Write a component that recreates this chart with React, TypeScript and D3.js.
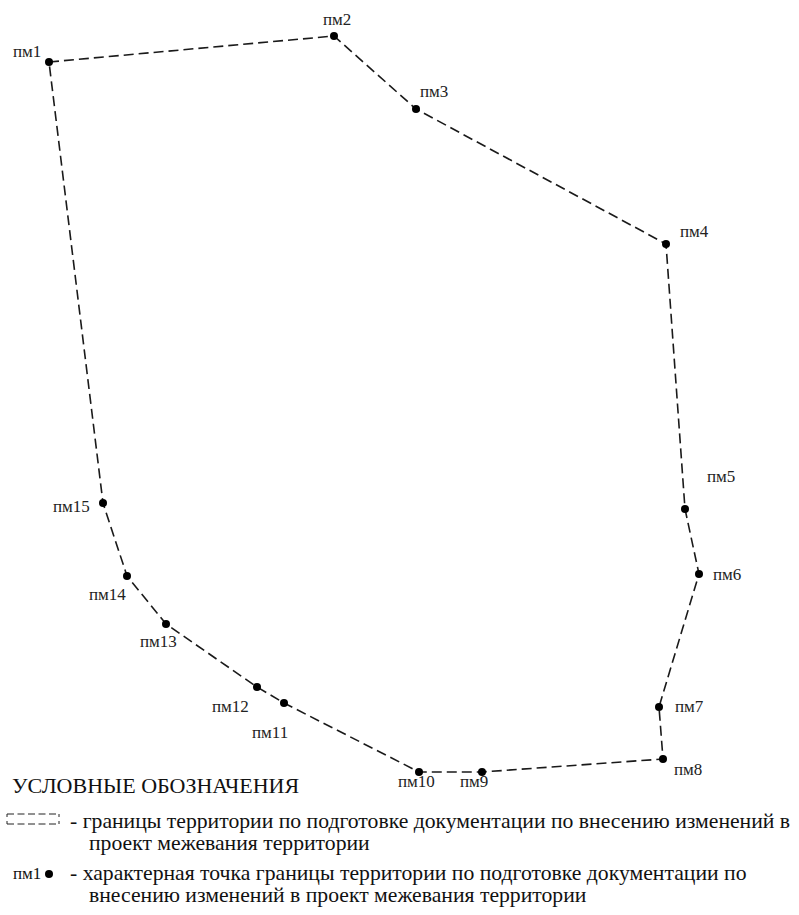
import React, { useRef, useEffect } from "react";
import * as d3 from "d3";

// boundary points (plan units, northing grows upward)
const pointNames = [
  "пм1", "пм2", "пм3", "пм4", "пм5", "пм6", "пм7", "пм8",
  "пм9", "пм10", "пм11", "пм12", "пм13", "пм14", "пм15",
];
const eastings = [49, 334, 416, 666, 685, 699, 659, 663, 482, 419, 284, 257, 166, 127, 103];
const northings = [853, 879, 806, 671, 406, 341, 208, 156, 143, 143, 212, 228, 291, 339, 412];

// label placement relative to the point (px)
const labelDx = [-36, -11, 4, 14, 22, 14, 16, 11, -22, -21, -32, -45, -26, -38, -50];
const labelDy = [-5, -11, -12, -7, -27, 6, 5, 16, 15, 15, 35, 25, 23, 24, 9];

const legendTitle = "УСЛОВНЫЕ ОБОЗНАЧЕНИЯ";
const legendLines = [
  ["- границы территории по подготовке документации по внесению изменений в", "проект межевания территории"],
  ["- характерная точка границы территории по подготовке документации по", "внесению изменений в проект межевания территории"],
];

const W = 799;
const H = 915;
const FONT = "'Liberation Serif', 'Times New Roman', serif";

export default function App() {
  const svgRef = useRef<SVGSVGElement>(null);

  useEffect(() => {
    if (!svgRef.current) return;
    const svg = d3.select(svgRef.current);
    svg.selectAll("*").remove();

    const x = d3.scaleLinear().domain([0, W]).range([0, W]);
    const y = d3.scaleLinear().domain([0, H]).range([H, 0]);

    const pts = pointNames.map((name, i) => ({
      name,
      px: x(eastings[i]),
      py: y(northings[i]),
      dx: labelDx[i],
      dy: labelDy[i],
    }));

    const line = d3
      .line<any>()
      .x((d) => d.px)
      .y((d) => d.py)
      .curve(d3.curveLinearClosed);

    svg
      .append("path")
      .attr("d", line(pts))
      .attr("fill", "none")
      .attr("stroke", "#1a1a1a")
      .attr("stroke-width", 1.6)
      .attr("stroke-dasharray", "10,5");

    svg
      .selectAll(".pt")
      .data(pts)
      .enter()
      .append("circle")
      .attr("cx", (d) => d.px)
      .attr("cy", (d) => d.py)
      .attr("r", 4)
      .attr("fill", "#000");

    svg
      .selectAll(".lbl")
      .data(pts)
      .enter()
      .append("text")
      .attr("x", (d) => d.px + d.dx)
      .attr("y", (d) => d.py + d.dy)
      .attr("font-family", FONT)
      .attr("font-size", 17)
      .attr("fill", "#222")
      .text((d) => d.name);

    // legend
    const lg = svg.append("g").attr("font-family", FONT).attr("fill", "#111");

    lg.append("text")
      .attr("x", 12)
      .attr("y", 793)
      .attr("font-size", 22)
      .text(legendTitle);

    // dashed bracket symbol
    const sym = lg.append("g").attr("stroke", "#222").attr("stroke-width", 1).attr("fill", "none");
    sym.append("line").attr("x1", 7).attr("x2", 59).attr("y1", 814).attr("y2", 814).attr("stroke-dasharray", "7,3.5");
    sym.append("line").attr("x1", 7).attr("x2", 59).attr("y1", 824).attr("y2", 824).attr("stroke-dasharray", "7,3.5");
    sym.append("path").attr("d", "M7,814v3M7,824v-3M59,814v3M59,824v-3");

    // point symbol
    lg.append("text")
      .attr("x", 13)
      .attr("y", 879)
      .attr("font-size", 17)
      .text("пм1");
    lg.append("circle").attr("cx", 49).attr("cy", 874).attr("r", 4).attr("fill", "#000");

    const rows = [828, 880];
    legendLines.forEach((ls, i) => {
      lg.append("text")
        .attr("x", 70)
        .attr("y", rows[i])
        .attr("font-size", 21.7)
        .text(ls[0]);
      lg.append("text")
        .attr("x", 89)
        .attr("y", rows[i] + 22)
        .attr("font-size", 21.7)
        .text(ls[1]);
    });
  }, []);

  return (
    <svg
      ref={svgRef}
      width={W}
      height={H}
      viewBox={`0 0 ${W} ${H}`}
      style={{ position: "absolute", left: 0, top: 0, background: "#fff" }}
    />
  );
}
